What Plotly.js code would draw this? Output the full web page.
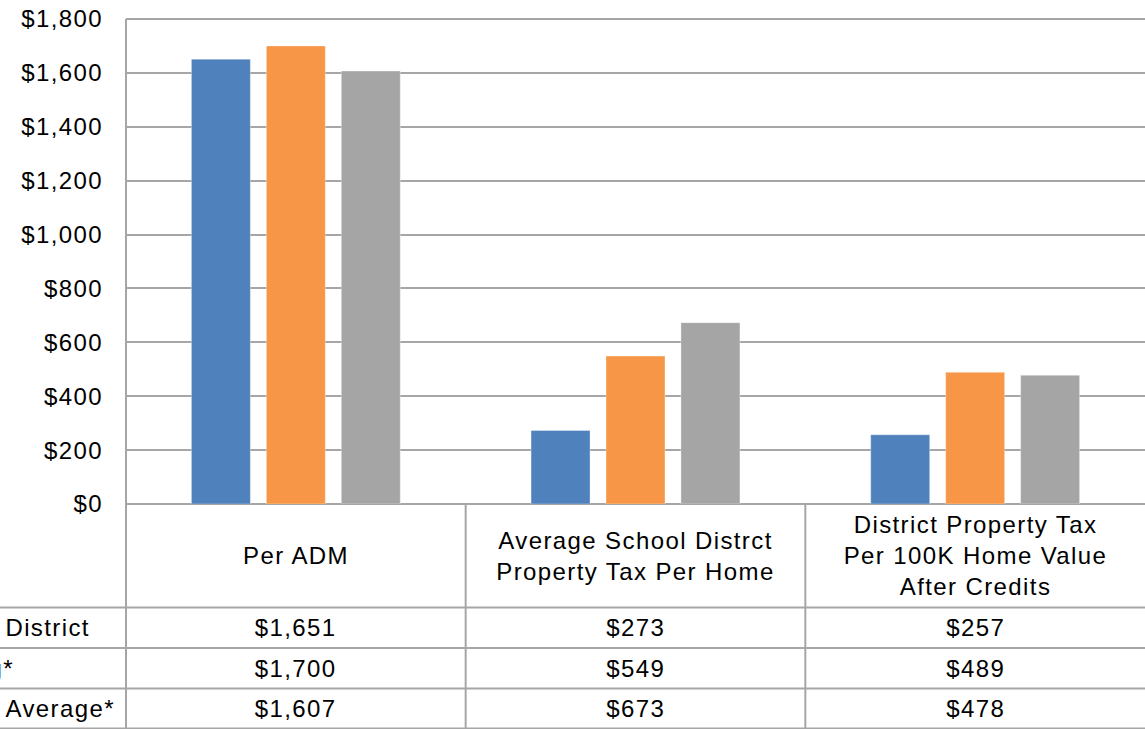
<!DOCTYPE html>
<html>
<head>
<meta charset="utf-8">
<script src="https://cdn.plot.ly/plotly-3.0.1.min.js"></script>
<style>
html, body { margin: 0; padding: 0; background: #fff; }
#chart { width: 1145px; height: 729px; }
#chart text { letter-spacing: 1.4px; }
</style>
</head>
<body>
<div id="chart"></div>
<script>
// ---- data ----
const categories = [
  "Per ADM",
  "Average School Distrct<br>Property Tax Per Home",
  "District Property Tax<br>Per 100K Home Value<br>After Credits"
];
const seriesNames = ["District", "g*", "Average*"];
const seriesA = [1651, 273, 257];
const seriesB = [1700, 549, 489];
const seriesC = [1607, 673, 478];
const tickVals = [0, 200, 400, 600, 800, 1000, 1200, 1400, 1600, 1800];
const tickText = ["$0", "$200", "$400", "$600", "$800", "$1,000", "$1,200", "$1,400", "$1,600", "$1,800"];

const colors = ["#4f81bd", "#f79646", "#a5a5a5"];
const allSeries = [seriesA, seriesB, seriesC];
const xIdx = categories.map((c, i) => i);

const font = "Liberation Sans, Arial, sans-serif";
const gridColor = "#a6a6a6";

// geometry helpers (pixel -> paper)
const plotTop = 19, plotBottom = 504, plotLeft = 126, W = 1145;
const plotH = plotBottom - plotTop, plotW = W - plotLeft;
const py = p => (plotBottom - p) / plotH;
const px = p => (p - plotLeft) / plotW;

const traces = allSeries.map((vals, s) => ({
  type: "bar",
  name: seriesNames[s],
  x: xIdx,
  y: vals,
  marker: { color: colors[s], line: { color: "rgba(255,255,255,0.35)", width: 1 } },
  hoverinfo: "y+name"
}));

const rowLines = [607.5, 648, 688.5, 728.5];
const rowCenters = [627.5, 668, 708.5];

const shapes = [];
// top gridline (edge of range)
shapes.push({ type: "line", xref: "paper", yref: "paper", x0: 0, x1: 1, y0: 1, y1: 1,
  line: { color: gridColor, width: 2 } });
// horizontal table lines
rowLines.forEach(p => shapes.push({
  type: "line", xref: "paper", yref: "paper",
  x0: px(0), x1: 1, y0: py(p), y1: py(p),
  line: { color: gridColor, width: 2 }
}));
// vertical table lines
shapes.push({ type: "line", xref: "paper", yref: "paper", x0: 0, x1: 0, y0: py(729), y1: 1,
  line: { color: gridColor, width: 2 } });
for (let i = 1; i < categories.length; i++) {
  const xp = i / categories.length;
  shapes.push({ type: "line", xref: "paper", yref: "paper", x0: xp, x1: xp, y0: py(729), y1: 0,
    line: { color: gridColor, width: 2 } });
}

const annotations = [];
// category labels
categories.forEach((c, i) => annotations.push({
  xref: "x", yref: "paper", x: i, y: py(555.5), text: c, showarrow: false,
  xanchor: "center", yanchor: "middle", align: "center",
  font: { family: font, size: 24, color: "#000" }
}));
// values
const fmt = v => "$" + v.toLocaleString("en-US");
allSeries.forEach((vals, s) => vals.forEach((v, i) => annotations.push({
  xref: "x", yref: "paper", x: i, y: py(rowCenters[s]), text: fmt(v), showarrow: false,
  xanchor: "center", yanchor: "middle",
  font: { family: font, size: 24, color: "#000" }
})));
// row labels (clipped at left edge in the reference)
annotations.push({ xref: "paper", yref: "paper", x: px(9), y: py(rowCenters[0]), text: seriesNames[0],
  showarrow: false, xanchor: "left", yanchor: "middle", font: { family: font, size: 24, color: "#000" } });
annotations.push({ xref: "paper", yref: "paper", x: px(15), y: py(rowCenters[1]), text: seriesNames[1],
  showarrow: false, xanchor: "right", yanchor: "middle", font: { family: font, size: 24, color: "#000" } });
annotations.push({ xref: "paper", yref: "paper", x: px(9), y: py(rowCenters[2]), text: seriesNames[2],
  showarrow: false, xanchor: "left", yanchor: "middle", font: { family: font, size: 24, color: "#000" } });

const layout = {
  width: 1145, height: 729,
  margin: { l: plotLeft, r: 0, t: plotTop, b: 729 - plotBottom, pad: 0 },
  paper_bgcolor: "#fff", plot_bgcolor: "#fff",
  showlegend: false,
  barmode: "group",
  bargap: 0.338,
  bargroupgap: 0.213,
  font: { family: font, size: 24, color: "#000" },
  xaxis: {
    range: [-0.5, categories.length - 0.5],
    showticklabels: false, showgrid: false, zeroline: false, showline: false,
    fixedrange: true
  },
  yaxis: {
    range: [0, 1800],
    tickvals: tickVals, ticktext: tickText,
    tickfont: { family: font, size: 24, color: "#000" },
    ticks: "", ticklabelstandoff: 22,
    showgrid: true, gridcolor: gridColor, gridwidth: 2,
    zeroline: true, zerolinecolor: gridColor, zerolinewidth: 2,
    showline: false, fixedrange: true
  },
  shapes: shapes,
  annotations: annotations
};

Plotly.newPlot("chart", traces, layout, { displayModeBar: false, staticPlot: true });
</script>
</body>
</html>
